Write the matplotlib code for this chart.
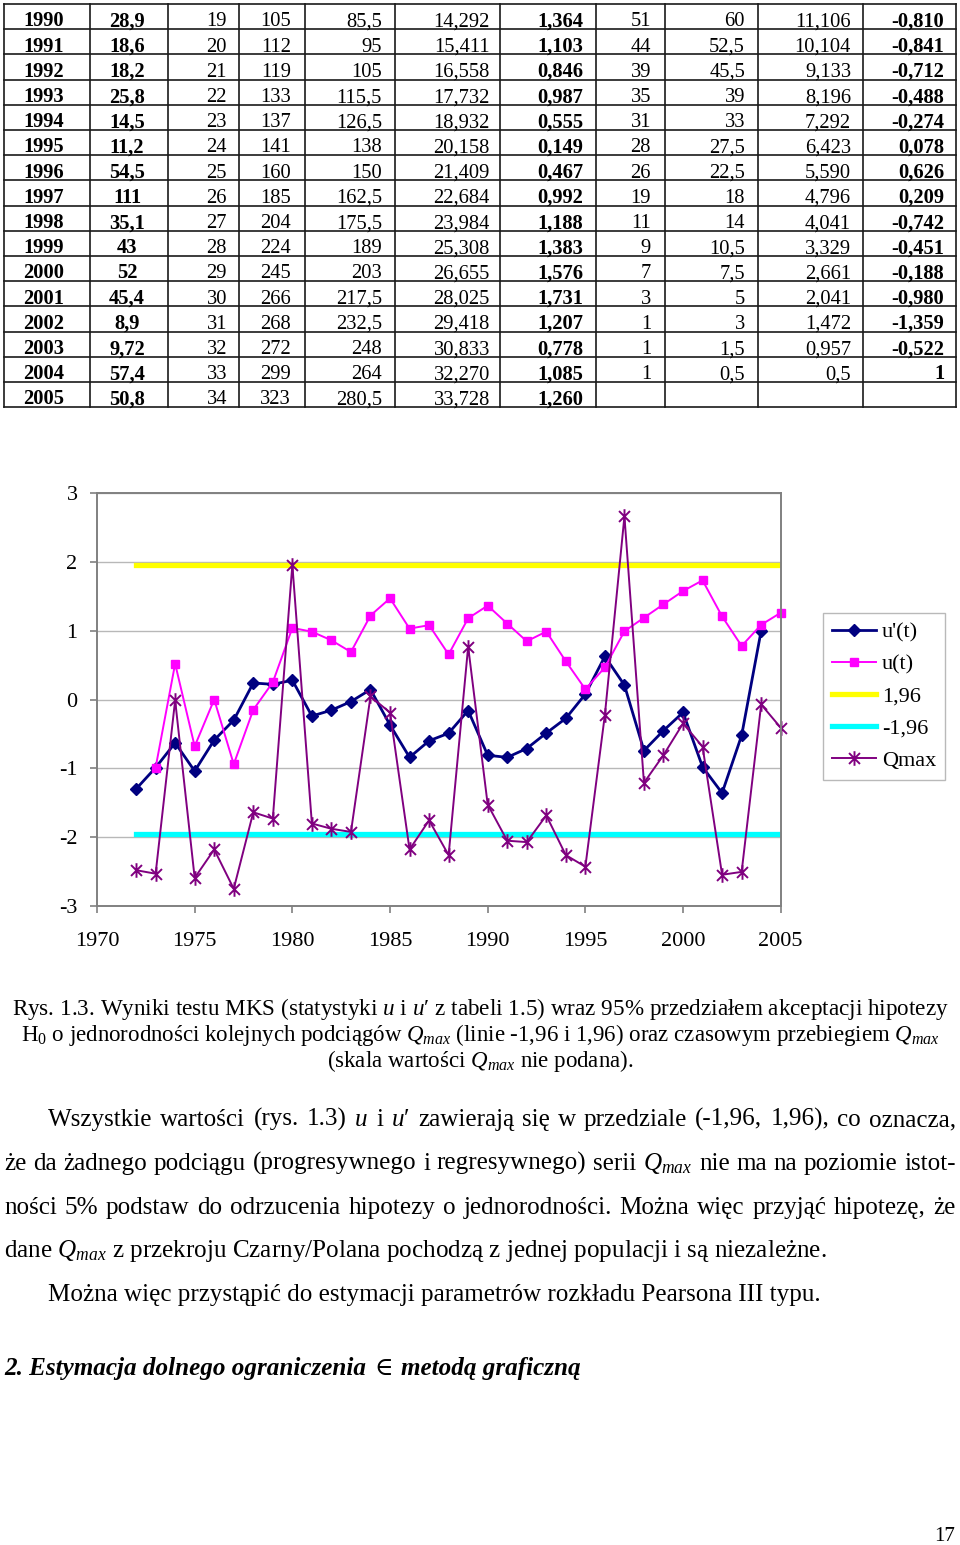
import numpy as np
import matplotlib
matplotlib.use('Agg')
import matplotlib.pyplot as plt
from matplotlib.path import Path

plt.rcParams['font.family'] = ['Liberation Serif', 'DejaVu Serif']
plt.rcParams['mathtext.fontset'] = 'custom'
plt.rcParams['mathtext.rm'] = 'Liberation Serif'
plt.rcParams['mathtext.it'] = 'Liberation Serif:italic'
plt.rcParams['mathtext.bf'] = 'Liberation Serif:bold'
plt.rcParams['axes.unicode_minus'] = False

# ---- data ----
years = list(range(1972, 2006))
# u'(t) regressive statistic, 1972-2004
u_prime = [-1.30, -0.99, -0.63, -1.04, -0.59, -0.30, 0.24, 0.22, 0.28, -0.24,
           -0.155, -0.03, 0.145, -0.37, -0.84, -0.60, -0.49, -0.16,
           -0.810, -0.841, -0.712, -0.488, -0.274, 0.078, 0.626, 0.209,
           -0.742, -0.451, -0.188, -0.980, -1.359, -0.522, 1.0]
# u(t) progressive statistic, 1973-2005
u = [-0.99, 0.52, -0.68, 0.0, -0.94, -0.15, 0.25, 1.04, 0.985, 0.86, 0.69,
     1.22, 1.47, 1.03, 1.08, 0.655, 1.18,
     1.364, 1.103, 0.846, 0.987, 0.555, 0.149, 0.467, 0.992, 1.188, 1.383,
     1.576, 1.731, 1.207, 0.778, 1.085, 1.260]
# Qmax, 1972-2005 (plotted on arbitrary scale)
qmax = [10.2, 9.2, 58.6, 8.0, 16.1, 4.9, 26.7, 24.9, 97.2, 23.5, 22.0, 21.1,
        59.7, 55.1, 16.1, 24.4, 14.5, 73.9,
        28.9, 18.6, 18.2, 25.8, 14.5, 11.2, 54.5, 111, 35.1, 43, 52, 45.4,
        8.9, 9.72, 57.4, 50.8]
q_scale, q_shift = 0.051, -3.0
crit = 1.96

# table part (1990-2005)
tab_years = list(range(1990, 2006))
tab_rank = [str(v) for v in range(19, 35)]
tab_c4 = ['105', '112', '119', '133', '137', '141', '160', '185', '204', '224',
          '245', '266', '268', '272', '299', '323']
tab_c5 = ['85,5', '95', '105', '115,5', '126,5', '138', '150', '162,5', '175,5',
          '189', '203', '217,5', '232,5', '248', '264', '280,5']
tab_c6 = ['14,292', '15,411', '16,558', '17,732', '18,932', '20,158', '21,409',
          '22,684', '23,984', '25,308', '26,655', '28,025', '29,418', '30,833',
          '32,270', '33,728']
tab_c8 = ['51', '44', '39', '35', '31', '28', '26', '19', '11', '9', '7', '3',
          '1', '1', '1', '']
tab_c9 = ['60', '52,5', '45,5', '39', '33', '27,5', '22,5', '18', '14', '10,5',
          '7,5', '5', '3', '1,5', '0,5', '']
tab_c10 = ['11,106', '10,104', '9,133', '8,196', '7,292', '6,423', '5,590',
           '4,796', '4,041', '3,329', '2,661', '2,041', '1,472', '0,957', '0,5', '']


def pl(v, dec):
    if v == round(v):
        return str(int(round(v)))
    return ('%.*f' % (dec, v)).replace('.', ',')


def plg(v):
    return ('%g' % v).replace('.', ',')


W, H = 960, 1545
fig = plt.figure(figsize=(W / 100, H / 100), dpi=100)
page = fig.add_axes([0, 0, 1, 1], zorder=0)
page.set_xlim(0, W)
page.set_ylim(H, 0)
page.axis('off')
r = fig.canvas.get_renderer()

# ---- table ----
col_x = [4, 90, 168, 239, 305, 395, 500, 596, 665, 758, 863, 956]
row_top, row_h = 4, 25.2
n = len(tab_years)
for x in col_x:
    page.plot([x, x], [row_top, row_top + n * row_h], color='#1a1a1a', lw=1.2)
for i in range(n + 1):
    page.plot([col_x[0], col_x[-1]], [row_top + i * row_h] * 2, color='#1a1a1a', lw=1.2)

tab_q = [plg(v) for v in qmax[-n:]]
tab_u = [pl(v, 3) for v in u[-n:]]
tab_up = [pl(v, 3) for v in u_prime[-(n - 1):]] + ['']
columns = [
    ([str(y) for y in tab_years], 'bold', 'center', 44),
    (tab_q, 'bold', 'center', 127),
    (tab_rank, 'normal', 'right', 227),
    (tab_c4, 'normal', 'right', 291),
    (tab_c5, 'normal', 'right', 382),
    (tab_c6, 'normal', 'right', 490),
    (tab_u, 'bold', 'right', 583),
    (tab_c8, 'normal', 'right', 651),
    (tab_c9, 'normal', 'right', 745),
    (tab_c10, 'normal', 'right', 851),
    (tab_up, 'bold', 'right', 944),
]
for vals, wt, ha, x in columns:
    for i, s in enumerate(vals):
        page.text(x, row_top + i * row_h + 22.5, s, fontsize=14.8, fontweight=wt,
                  ha=ha, va='baseline')

# ---- chart ----
ax = fig.add_axes([97 / W, 1 - 906 / H, (780.7 - 97) / W, 413 / H], zorder=2)
asterisk = Path([(0, -1), (0, 1), (-0.75, -0.75), (0.75, 0.75), (-0.75, 0.75), (0.75, -0.75)],
                [Path.MOVETO, Path.LINETO, Path.MOVETO, Path.LINETO, Path.MOVETO, Path.LINETO])
q_plot = np.array(qmax) * q_scale + q_shift

ax.plot(years[:len(u_prime)], u_prime, color='#000080', lw=2.0, marker='D', ms=6,
        label="u'(t)", clip_on=False)
ax.plot(years[1:], u, color='#ff00ff', lw=1.4, marker='s', ms=5.5, label='u(t)', clip_on=False)
ax.plot(years, [crit] * len(years), color='#ffff00', lw=3.8, label='1,96')
ax.plot(years, [-crit] * len(years), color='#00ffff', lw=3.8, label='-1,96')
ax.plot(years, q_plot, color='#800080', lw=1.4, marker=asterisk, ms=10.5, mew=1.4,
        label='Qmax', clip_on=False)

ax.set_xlim(1970, 2005)
ax.set_ylim(-3, 3)
ax.set_xticks(range(1970, 2006, 5))
ax.set_yticks(range(-3, 4))
ax.yaxis.grid(True, color='#b8b8b8', lw=1)
ax.set_axisbelow(True)
for s in ax.spines.values():
    s.set_color('#808080')
    s.set_linewidth(1.4)
ax.tick_params(axis='both', direction='out', length=5, width=1.2, color='#808080',
               labelsize=16)
ax.tick_params(axis='x', pad=14)
ax.tick_params(axis='y', pad=9)

leg = ax.legend(loc='upper left', bbox_to_anchor=(823 / W, 1 - 613 / H),
                bbox_transform=fig.transFigure, fontsize=16, frameon=True,
                fancybox=False, edgecolor='#a8a8a8', handlelength=2.0,
                handletextpad=0.25, labelspacing=0.52, borderpad=0.4,
                borderaxespad=0)
leg.get_frame().set_linewidth(1.0)

# ---- text below ----
def width(s, size, **kw):
    t = page.text(0, 0, s, fontsize=size, **kw)
    w = t.get_window_extent(r).width
    t.remove()
    return w


def fit(s, target, **kw):
    return 10 * target / width(s, 10, **kw)


def justify(words, x0, x1, y, size, **kw):
    ts = [page.text(0, y, w, fontsize=size, va='baseline', **kw) for w in words]
    ws = [t.get_window_extent(r).width for t in ts]
    gap = (x1 - x0 - sum(ws)) / (len(words) - 1)
    x = x0
    for t, w in zip(ts, ws):
        t.set_x(x)
        x += w + gap


cap1 = "Rys. 1.3. Wyniki testu MKS (statystyki $u$ i $u$\u2032 z tabeli 1.5) wraz 95% przedziałem akceptacji hipotezy"
cap2 = r"$\mathrm{H}_0$ o jednorodności kolejnych podciągów $Q_{max}$ (linie -1,96 i 1,96) oraz czasowym przebiegiem $Q_{max}$"
cap3 = "(skala wartości $Q_{max}$ nie podana)."
s1 = fit(cap1, 936)
s2 = fit(cap2, 920)
page.text(480, 1015, cap1, fontsize=s1, ha='center', va='baseline')
page.text(480, 1041, cap2, fontsize=s2, ha='center', va='baseline')
page.text(480, 1067, cap3, fontsize=s2, ha='center', va='baseline')

par = [
    ("Wszystkie wartości (rys. 1.3) $u$ i $u$\u2032 zawierają się w przedziale (-1,96, 1,96), co oznacza,", 48, 956, True),
    ("że da żadnego podciągu (progresywnego i regresywnego) serii $Q_{max}$ nie ma na poziomie istot-", 4, 956, True),
    ("ności 5% podstaw do odrzucenia hipotezy o jednorodności. Można więc przyjąć hipotezę, że", 4, 956, True),
    ("dane $Q_{max}$ z przekroju Czarny/Polana pochodzą z jednej populacji i są niezależne.", 4, 826, False),
    ("Można więc przystąpić do estymacji parametrów rozkładu Pearsona III typu.", 48, 822, False),
]
ps = fit(par[3][0], 822)
for k, (s, x0, x1, just) in enumerate(par):
    y = 1126 + k * 43.8
    if just:
        justify(s.split(' '), x0, x1, y, ps)
    else:
        page.text(x0, y, s, fontsize=ps, va='baseline')

head = "2. Estymacja dolnego ograniczenia"
head2 = "metodą graficzną"
hs = fit(head + " \u2208 " + head2, 573, fontweight='bold', fontstyle='italic')
t1 = page.text(4, 1375, head, fontsize=hs, fontweight='bold', fontstyle='italic', va='baseline')
x = 4 + t1.get_window_extent(r).width + 8
t2 = page.text(x, 1375, "\u2208", fontsize=hs, va='baseline')
x += t2.get_window_extent(r).width + 8
page.text(x, 1375, head2, fontsize=hs, fontweight='bold', fontstyle='italic', va='baseline')

page.text(955, 1541, "17", fontsize=15, ha='right', va='baseline')

fig.savefig('out.png', dpi=100)
